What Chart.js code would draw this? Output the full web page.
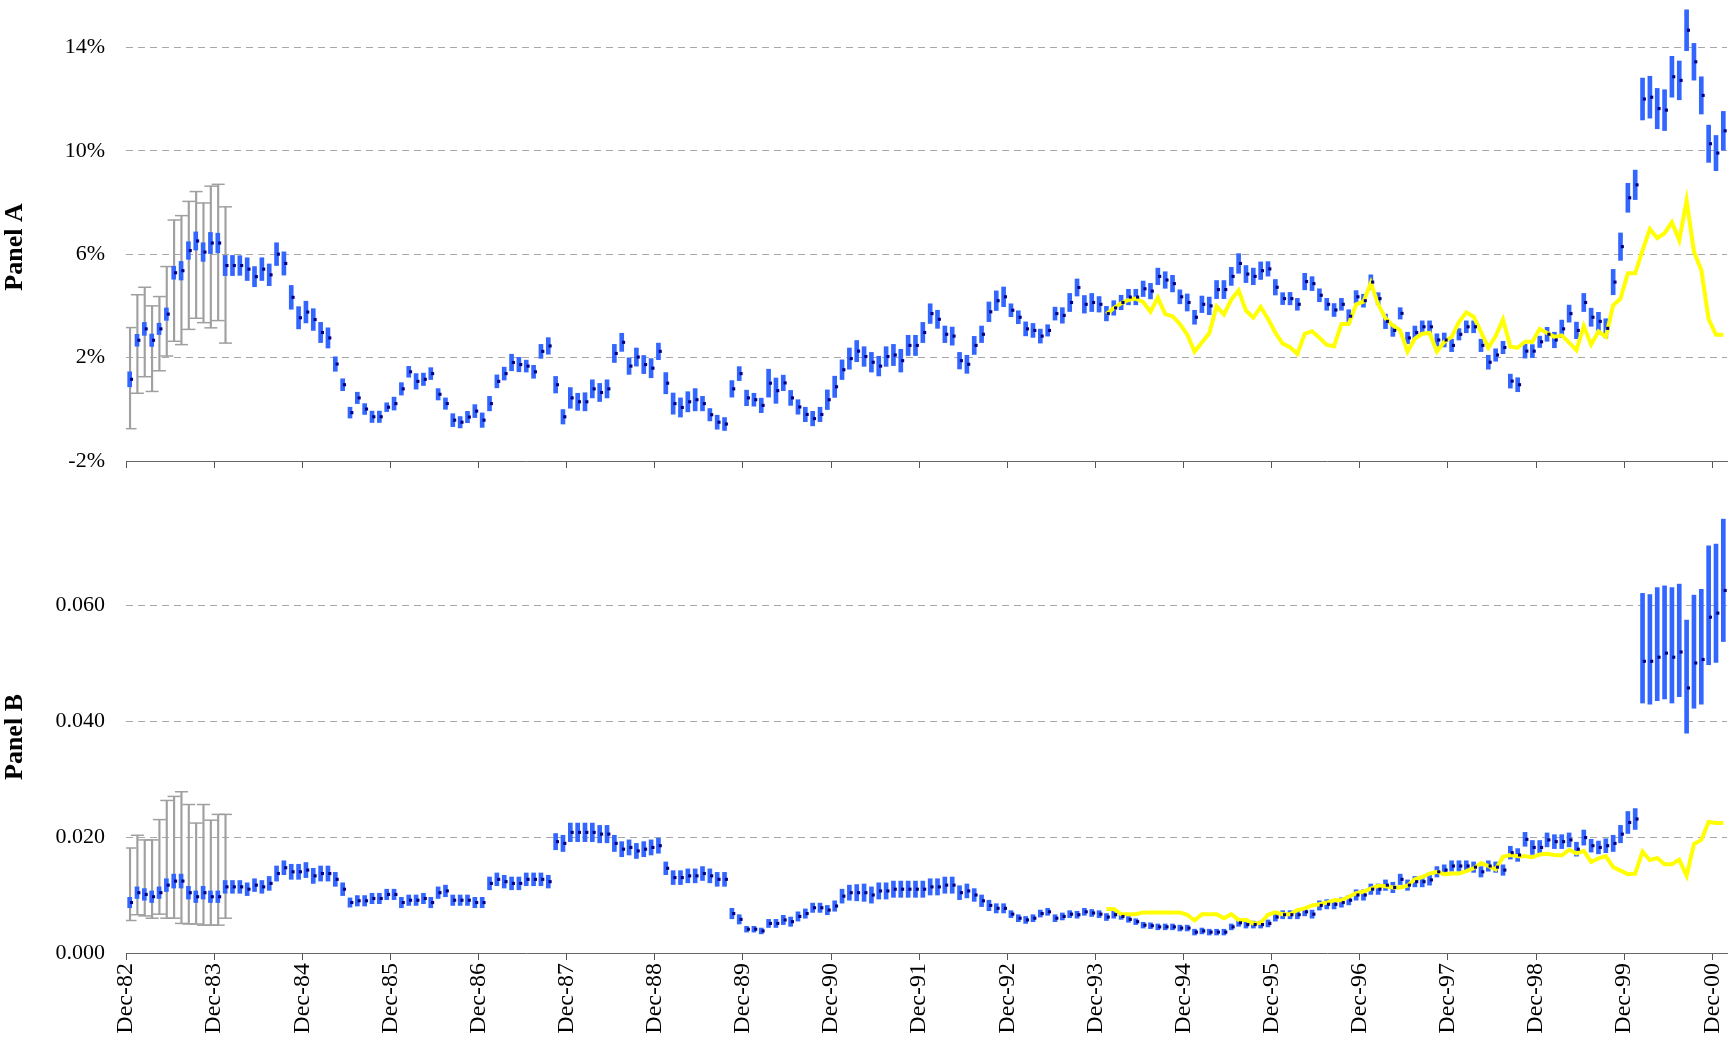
<!DOCTYPE html>
<html>
<head>
<meta charset="utf-8">
<title>Panel A / Panel B</title>
<script src="https://cdn.jsdelivr.net/npm/chart.js@4.4.1/dist/chart.umd.min.js"></script>
<style>
  html, body { margin: 0; padding: 0; background: #fff; }
  #wrapA { position: absolute; left: 0; top: 0; width: 1735px; height: 475px; }
  #wrapB { position: absolute; left: 0; top: 475px; width: 1735px; height: 569px; }
</style>
</head>
<body>
<div id="wrapA"><canvas id="chartA"></canvas></div>
<div id="wrapB"><canvas id="chartB"></canvas></div>
<script>
// x axis: one slot per month starting Dec-82, a tick every December
const tickLabels = ['Dec-82','Dec-83','Dec-84','Dec-85','Dec-86','Dec-87','Dec-88','Dec-89','Dec-90',
  'Dec-91','Dec-92','Dec-93','Dec-94','Dec-95','Dec-96','Dec-97','Dec-98','Dec-99','Dec-00'];

// Panel A (percent)
const aTicks = [-2, 2, 6, 10, 14];
const aPoint = [
  1.16,2.67,3.11,2.67,3.11,3.68,5.28,5.36,6.14,6.51,6.08,6.43,
  6.43,5.56,5.56,5.56,5.42,5.13,5.42,5.20,6.00,5.64,4.33,3.54,
  3.76,3.47,2.97,2.76,1.75,0.95,-0.13,0.44,0.01,-0.29,-0.29,0.08,
  0.22,0.79,1.45,1.08,1.16,1.38,0.58,0.22,-0.42,-0.50,-0.30,-0.07,
  -0.42,0.22,1.08,1.38,1.81,1.73,1.67,1.45,2.24,2.45,0.95,-0.29,
  0.44,0.29,0.29,0.79,0.65,0.79,2.16,2.59,1.67,2.02,1.73,1.59,
  2.24,1.01,0.22,0.07,0.29,0.37,0.22,-0.21,-0.50,-0.57,0.79,1.38,
  0.44,0.37,0.15,1.01,0.72,1.02,0.44,0.09,-0.20,-0.36,-0.20,0.37,
  0.87,1.53,1.96,2.25,2.04,1.82,1.67,2.04,2.10,1.88,2.47,2.47,
  2.97,3.70,3.48,2.90,2.83,1.88,1.74,2.47,2.90,3.77,4.20,4.35,
  3.83,3.56,3.11,3.05,2.83,3.05,3.70,3.63,4.13,4.71,4.06,4.13,
  4.06,3.70,3.92,4.13,4.34,4.34,4.66,4.57,5.14,5.00,4.86,4.35,
  4.13,3.56,4.06,4.00,4.63,4.63,5.14,5.64,5.23,5.14,5.36,5.43,
  4.72,4.28,4.28,4.06,4.94,4.86,4.41,4.06,3.84,4.06,3.60,4.35,
  4.20,4.92,4.28,3.40,3.05,3.71,2.76,2.97,3.19,3.19,2.68,2.68,
  2.47,2.90,3.19,3.19,2.47,1.82,2.10,2.39,1.09,0.95,2.25,2.25,
  2.61,2.90,2.68,3.11,3.70,3.05,4.13,3.56,3.40,3.13,4.92,6.29,
  8.18,8.68,12.00,12.07,11.63,11.57,12.86,12.72,14.66,13.44,12.14,10.27,
  9.91,10.77
];
// half length of the blue interval bars
const aErr = [
  0.29,0.23,0.25,0.24,0.22,0.24,0.25,0.36,0.34,0.35,0.36,0.41,
  0.38,0.39,0.39,0.38,0.44,0.39,0.44,0.42,0.44,0.45,0.46,0.43,
  0.42,0.42,0.39,0.39,0.28,0.23,0.21,0.22,0.21,0.22,0.22,0.17,
  0.25,0.24,0.21,0.30,0.24,0.23,0.22,0.22,0.25,0.22,0.22,0.25,
  0.28,0.28,0.25,0.25,0.32,0.28,0.23,0.25,0.27,0.32,0.32,0.28,
  0.40,0.33,0.35,0.35,0.35,0.35,0.35,0.35,0.32,0.35,0.35,0.37,
  0.32,0.41,0.41,0.37,0.39,0.43,0.28,0.24,0.27,0.25,0.32,0.27,
  0.30,0.25,0.28,0.54,0.49,0.30,0.29,0.28,0.28,0.28,0.28,0.38,
  0.41,0.38,0.41,0.41,0.38,0.38,0.38,0.38,0.41,0.44,0.39,0.39,
  0.39,0.38,0.35,0.32,0.35,0.32,0.35,0.35,0.32,0.38,0.38,0.38,
  0.25,0.25,0.27,0.27,0.27,0.22,0.25,0.30,0.35,0.33,0.34,0.35,
  0.30,0.28,0.28,0.28,0.30,0.30,0.30,0.30,0.32,0.32,0.32,0.27,
  0.33,0.27,0.32,0.34,0.35,0.35,0.35,0.38,0.33,0.32,0.34,0.28,
  0.30,0.23,0.24,0.23,0.32,0.27,0.25,0.23,0.25,0.23,0.25,0.24,
  0.25,0.28,0.23,0.28,0.23,0.22,0.22,0.25,0.23,0.23,0.24,0.27,
  0.24,0.22,0.23,0.23,0.24,0.27,0.24,0.24,0.27,0.27,0.27,0.25,
  0.22,0.27,0.30,0.34,0.33,0.32,0.35,0.35,0.35,0.37,0.49,0.53,
  0.56,0.57,0.81,0.81,0.78,0.79,0.79,0.75,0.79,0.71,0.72,0.72,
  0.68,0.75
];
// grey whiskers for the first 14 months
const aGreyHi = [3.16,4.43,4.72,4.00,4.36,5.52,7.32,7.49,8.04,8.42,7.98,8.63,8.70,7.83];
const aGreyLo = [-0.75,0.62,1.26,0.69,1.49,2.06,2.63,2.50,3.09,3.52,3.35,3.15,3.43,2.56];
// yellow line, starts at month 133
const aYellowStart = 133;
const aYellow = [
  3.68,3.91,4.10,4.23,4.28,4.15,3.77,4.32,3.68,3.60,3.30,
  2.89,2.23,2.58,2.94,3.98,3.67,4.24,4.60,3.82,3.54,3.96,3.50,
  2.96,2.54,2.40,2.14,2.92,3.02,2.77,2.49,2.44,3.30,3.30,4.06,
  4.16,4.89,4.06,3.52,3.24,3.05,2.23,2.73,2.92,2.95,2.23,2.61,
  2.80,3.37,3.75,3.58,2.99,2.38,2.83,3.47,2.42,2.38,2.61,2.61,
  3.11,2.95,2.80,2.86,2.58,2.29,3.22,2.50,3.01,2.80,4.02,4.28,
  5.26,5.26,6.15,6.97,6.62,6.81,7.23,6.53,8.08,6.09,5.39,3.49,
  2.88,2.88
];

// Panel B
const bTicks = [0, 0.02, 0.04, 0.06];
const bPoint = [
  0.0087,0.0104,0.0101,0.0097,0.0104,0.0117,0.0124,0.0124,0.0104,0.0097,0.0104,0.0097,
  0.0097,0.0114,0.0114,0.0114,0.0110,0.0117,0.0114,0.0120,0.0137,0.0147,0.0140,0.0140,
  0.0143,0.0133,0.0137,0.0137,0.0127,0.0110,0.0087,0.0090,0.0090,0.0094,0.0094,0.0101,
  0.0101,0.0087,0.0091,0.0091,0.0094,0.0087,0.0104,0.0107,0.0091,0.0091,0.0091,0.0087,
  0.0087,0.0120,0.0127,0.0123,0.0120,0.0120,0.0127,0.0127,0.0127,0.0123,0.0192,0.0189,
  0.0208,0.0208,0.0208,0.0208,0.0205,0.0205,0.0189,0.0179,0.0182,0.0176,0.0179,0.0182,
  0.0185,0.0146,0.0130,0.0130,0.0133,0.0133,0.0137,0.0133,0.0127,0.0127,0.0068,0.0058,
  0.0041,0.0041,0.0038,0.0051,0.0051,0.0057,0.0054,0.0063,0.0068,0.0078,0.0078,0.0074,
  0.0081,0.0098,0.0104,0.0104,0.0104,0.0100,0.0107,0.0107,0.0110,0.0110,0.0110,0.0110,
  0.0110,0.0114,0.0114,0.0117,0.0117,0.0104,0.0107,0.0100,0.0090,0.0082,0.0077,0.0077,
  0.0067,0.0060,0.0057,0.0060,0.0068,0.0071,0.0060,0.0063,0.0067,0.0066,0.0071,0.0069,
  0.0067,0.0062,0.0066,0.0063,0.0058,0.0054,0.0048,0.0047,0.0045,0.0045,0.0045,0.0043,
  0.0043,0.0036,0.0038,0.0036,0.0036,0.0036,0.0045,0.0052,0.0049,0.0049,0.0049,0.0051,
  0.0062,0.0066,0.0066,0.0066,0.0071,0.0067,0.0082,0.0084,0.0084,0.0087,0.0091,0.0100,
  0.0100,0.0110,0.0110,0.0117,0.0113,0.0127,0.0117,0.0123,0.0123,0.0126,0.0140,0.0143,
  0.0150,0.0150,0.0150,0.0148,0.0140,0.0150,0.0148,0.0143,0.0173,0.0169,0.0196,0.0182,
  0.0182,0.0195,0.0192,0.0192,0.0195,0.0179,0.0199,0.0185,0.0182,0.0185,0.0189,0.0205,
  0.0225,0.0231,0.0503,0.0503,0.0510,0.0517,0.0510,0.0519,0.0457,0.0500,0.0506,0.0579,
  0.0586,0.0625
];
// upper / lower length of the blue bars (the last year is not symmetric)
const bErrUp = [
  0.0009,0.0010,0.0010,0.0010,0.0010,0.0011,0.0012,0.0012,0.0011,0.0010,0.0011,0.0010,
  0.0010,0.0011,0.0011,0.0011,0.0011,0.0011,0.0011,0.0012,0.0013,0.0012,0.0013,0.0013,
  0.0013,0.0013,0.0013,0.0013,0.0012,0.0011,0.0008,0.0009,0.0009,0.0009,0.0009,0.0009,
  0.0009,0.0009,0.0009,0.0009,0.0009,0.0009,0.0010,0.0010,0.0009,0.0009,0.0009,0.0009,
  0.0009,0.0011,0.0011,0.0011,0.0011,0.0011,0.0011,0.0011,0.0011,0.0011,0.0014,0.0014,
  0.0016,0.0016,0.0016,0.0016,0.0015,0.0015,0.0014,0.0013,0.0013,0.0013,0.0013,0.0013,
  0.0013,0.0011,0.0012,0.0012,0.0012,0.0012,0.0012,0.0012,0.0012,0.0012,0.0009,0.0008,
  0.0005,0.0005,0.0005,0.0007,0.0007,0.0008,0.0008,0.0008,0.0008,0.0008,0.0008,0.0008,
  0.0009,0.0012,0.0013,0.0014,0.0015,0.0014,0.0014,0.0014,0.0014,0.0014,0.0014,0.0014,
  0.0014,0.0014,0.0014,0.0014,0.0014,0.0012,0.0012,0.0011,0.0010,0.0009,0.0008,0.0008,
  0.0006,0.0006,0.0006,0.0006,0.0006,0.0006,0.0006,0.0006,0.0006,0.0006,0.0006,0.0006,
  0.0006,0.0006,0.0006,0.0005,0.0005,0.0005,0.0005,0.0005,0.0005,0.0005,0.0005,0.0005,
  0.0005,0.0005,0.0005,0.0005,0.0005,0.0005,0.0005,0.0006,0.0006,0.0006,0.0006,0.0006,
  0.0007,0.0007,0.0007,0.0007,0.0007,0.0007,0.0008,0.0008,0.0008,0.0008,0.0008,0.0009,
  0.0009,0.0009,0.0009,0.0009,0.0009,0.0009,0.0009,0.0009,0.0009,0.0009,0.0009,0.0009,
  0.0009,0.0009,0.0009,0.0009,0.0009,0.0009,0.0009,0.0009,0.0011,0.0011,0.0012,0.0012,
  0.0012,0.0012,0.0012,0.0012,0.0012,0.0012,0.0013,0.0011,0.0011,0.0012,0.0014,0.0015,
  0.0019,0.0018,0.0117,0.0115,0.0120,0.0116,0.0120,0.0117,0.0117,0.0117,0.0121,0.0123,
  0.0119,0.0123
];
const bErrDn = [
  0.0009,0.0010,0.0010,0.0010,0.0010,0.0011,0.0012,0.0012,0.0011,0.0010,0.0011,0.0010,
  0.0010,0.0011,0.0011,0.0011,0.0011,0.0011,0.0011,0.0012,0.0013,0.0012,0.0013,0.0013,
  0.0013,0.0013,0.0013,0.0013,0.0012,0.0011,0.0008,0.0009,0.0009,0.0009,0.0009,0.0009,
  0.0009,0.0009,0.0009,0.0009,0.0009,0.0009,0.0010,0.0010,0.0009,0.0009,0.0009,0.0009,
  0.0009,0.0011,0.0011,0.0011,0.0011,0.0011,0.0011,0.0011,0.0011,0.0011,0.0014,0.0014,
  0.0016,0.0016,0.0016,0.0016,0.0015,0.0015,0.0014,0.0013,0.0013,0.0013,0.0013,0.0013,
  0.0013,0.0011,0.0012,0.0012,0.0012,0.0012,0.0012,0.0012,0.0012,0.0012,0.0009,0.0008,
  0.0005,0.0005,0.0005,0.0007,0.0007,0.0008,0.0008,0.0008,0.0008,0.0008,0.0008,0.0008,
  0.0009,0.0012,0.0013,0.0014,0.0015,0.0014,0.0014,0.0014,0.0014,0.0014,0.0014,0.0014,
  0.0014,0.0014,0.0014,0.0014,0.0014,0.0012,0.0012,0.0011,0.0010,0.0009,0.0008,0.0008,
  0.0006,0.0006,0.0006,0.0006,0.0006,0.0006,0.0006,0.0006,0.0006,0.0006,0.0006,0.0006,
  0.0006,0.0006,0.0006,0.0005,0.0005,0.0005,0.0005,0.0005,0.0005,0.0005,0.0005,0.0005,
  0.0005,0.0005,0.0005,0.0005,0.0005,0.0005,0.0005,0.0006,0.0006,0.0006,0.0006,0.0006,
  0.0007,0.0007,0.0007,0.0007,0.0007,0.0007,0.0008,0.0008,0.0008,0.0008,0.0008,0.0009,
  0.0009,0.0009,0.0009,0.0009,0.0009,0.0009,0.0009,0.0009,0.0009,0.0009,0.0009,0.0009,
  0.0009,0.0009,0.0009,0.0009,0.0009,0.0009,0.0009,0.0009,0.0011,0.0011,0.0012,0.0012,
  0.0012,0.0012,0.0012,0.0012,0.0012,0.0012,0.0013,0.0011,0.0011,0.0012,0.0014,0.0015,
  0.0019,0.0018,0.0072,0.0074,0.0075,0.0079,0.0079,0.0077,0.0078,0.0078,0.0077,0.0082,
  0.0085,0.0088
];
const bGreyHi = [0.0181,0.0203,0.0195,0.0195,0.0230,0.0263,0.0270,0.0278,0.0256,0.0224,0.0256,0.0229,0.0239,0.0239];
const bGreyLo = [0.0056,0.0066,0.0064,0.0060,0.0067,0.0060,0.0060,0.0051,0.0050,0.0050,0.0048,0.0048,0.0048,0.0060];
const bYellowStart = 133;
const bYellow = [
  0.0076,0.0076,0.0067,0.0067,0.0067,0.0070,0.0070,0.0070,0.0070,0.0070,0.0070,
  0.0066,0.0056,0.0067,0.0067,0.0067,0.0060,0.0067,0.0057,0.0057,0.0051,0.0052,0.0066,
  0.0070,0.0067,0.0067,0.0074,0.0077,0.0082,0.0084,0.0087,0.0091,0.0091,0.0097,0.0103,
  0.0106,0.0111,0.0116,0.0115,0.0113,0.0113,0.0116,0.0127,0.0131,0.0137,0.0140,0.0136,
  0.0137,0.0137,0.0141,0.0146,0.0155,0.0150,0.0144,0.0166,0.0169,0.0167,0.0167,0.0165,
  0.0170,0.0171,0.0169,0.0168,0.0178,0.0172,0.0176,0.0157,0.0163,0.0167,0.0148,0.0142,
  0.0136,0.0137,0.0175,0.0160,0.0164,0.0153,0.0153,0.0161,0.0133,0.0188,0.0195,0.0226,
  0.0224,0.0224
];

const SERIF = '"Liberation Serif", "Times New Roman", serif';

// draws the rotated "Panel A" / "Panel B" caption
const panelLabel = {
  id: 'panelLabel',
  afterDraw(chart, args, opts) {
    const ctx = chart.ctx;
    ctx.save();
    ctx.translate(opts.x, opts.y);
    ctx.rotate(-Math.PI / 2);
    ctx.font = 'bold 26px ' + SERIF;
    ctx.fillStyle = '#000';
    ctx.textAlign = 'center';
    ctx.textBaseline = 'middle';
    ctx.fillText(opts.text, 0, 0);
    ctx.restore();
  }
};

function buildDatasets(pts, errUp, errDn, greyHi, greyLo, yStart, yellow) {
  const bars = pts.map((v, i) => ({ x: i + 0.5, y: [v - errDn[i], v + errUp[i]] }));
  const dots = pts.map((v, i) => ({ x: i + 0.75, y: v }));
  const whisk = greyHi.map((v, i) => ({ x: i + 0.55, y: [greyLo[i], v] }));
  const caps = [];
  greyHi.forEach((v, i) => {
    caps.push({ x: i + 0.55, y: v });
    caps.push({ x: i + 0.55, y: greyLo[i] });
  });
  const line = yellow.map((v, j) => ({ x: yStart + j + 0.5, y: v }));

  return [
    { type: 'scatter', data: dots, order: 0, pointStyle: 'rect', pointRadius: 2.2,
      pointBackgroundColor: '#000080', pointBorderWidth: 0 },
    { type: 'line', data: line, order: 1, borderColor: '#ffff00', borderWidth: 4,
      pointRadius: 0, tension: 0, fill: false },
    { type: 'bar', data: bars, order: 2, backgroundColor: '#3366ff', barThickness: 4,
      grouped: false, borderSkipped: false, borderWidth: 0 },
    { type: 'scatter', data: caps, order: 3, pointStyle: 'line', pointRadius: 6.5,
      pointBorderColor: '#a0a0a0', pointBorderWidth: 1.5 },
    { type: 'bar', data: whisk, order: 4, backgroundColor: '#a0a0a0', barThickness: 1.5,
      grouped: false, borderWidth: 0 }
  ];
}

function xScale(showLabels, height) {
  return {
    type: 'linear',
    min: 0,
    max: 218,
    offset: false,
    afterBuildTicks: s => { s.ticks = tickLabels.map((t, k) => ({ value: k * 12 })); },
    afterFit: s => { s.height = height; s.paddingLeft = 0; s.paddingRight = 0; },
    ticks: {
      display: showLabels,
      autoSkip: false,
      minRotation: 90,
      maxRotation: 90,
      padding: 3,
      color: '#000',
      font: { family: SERIF, size: 24 },
      callback: (v, idx) => tickLabels[idx]
    },
    grid: { offset: false, drawOnChartArea: false, drawTicks: true, tickLength: 7, color: '#555', lineWidth: 1 },
    border: { display: true, color: '#666', width: 1 }
  };
}

function yScale(min, max, ticks, fmt) {
  return {
    type: 'linear',
    min: min,
    max: max,
    afterBuildTicks: s => { s.ticks = ticks.map(v => ({ value: v })); },
    afterFit: s => { s.width = 126; s.paddingTop = 0; s.paddingBottom = 0; },
    ticks: { padding: 21, color: '#000', font: { family: SERIF, size: 22 }, callback: fmt },
    grid: {
      drawTicks: false,
      lineWidth: 1,
      color: c => (c.tick && c.tick.value === min) ? 'rgba(0,0,0,0)' : '#a8a8a8'
    },
    border: { display: false, dash: [7, 5] }
  };
}

function makeChart(id, datasets, x, y, pad, label) {
  return new Chart(document.getElementById(id), {
    type: 'bar',
    data: { datasets: datasets },
    plugins: [panelLabel],
    options: {
      responsive: true,
      maintainAspectRatio: false,
      animation: false,
      layout: { padding: pad },
      plugins: { legend: { display: false }, tooltip: { enabled: false }, panelLabel: label },
      scales: { x: x, y: y }
    }
  });
}

makeChart('chartA',
  buildDatasets(aPoint, aErr, aErr, aGreyHi, aGreyLo, aYellowStart, aYellow),
  xScale(false, 14),
  yScale(-2, 15.52, aTicks, v => v + '%'),
  { left: 0, right: 7, top: 0, bottom: 0 },
  { text: 'Panel A', x: 15, y: 247 });

makeChart('chartB',
  buildDatasets(bPoint, bErrUp, bErrDn, bGreyHi, bGreyLo, bYellowStart, bYellow),
  xScale(true, 91),
  yScale(0, 0.08, bTicks, v => v.toFixed(3)),
  { left: 0, right: 7, top: 14, bottom: 0 },
  { text: 'Panel B', x: 15, y: 262 });
</script>
</body>
</html>
